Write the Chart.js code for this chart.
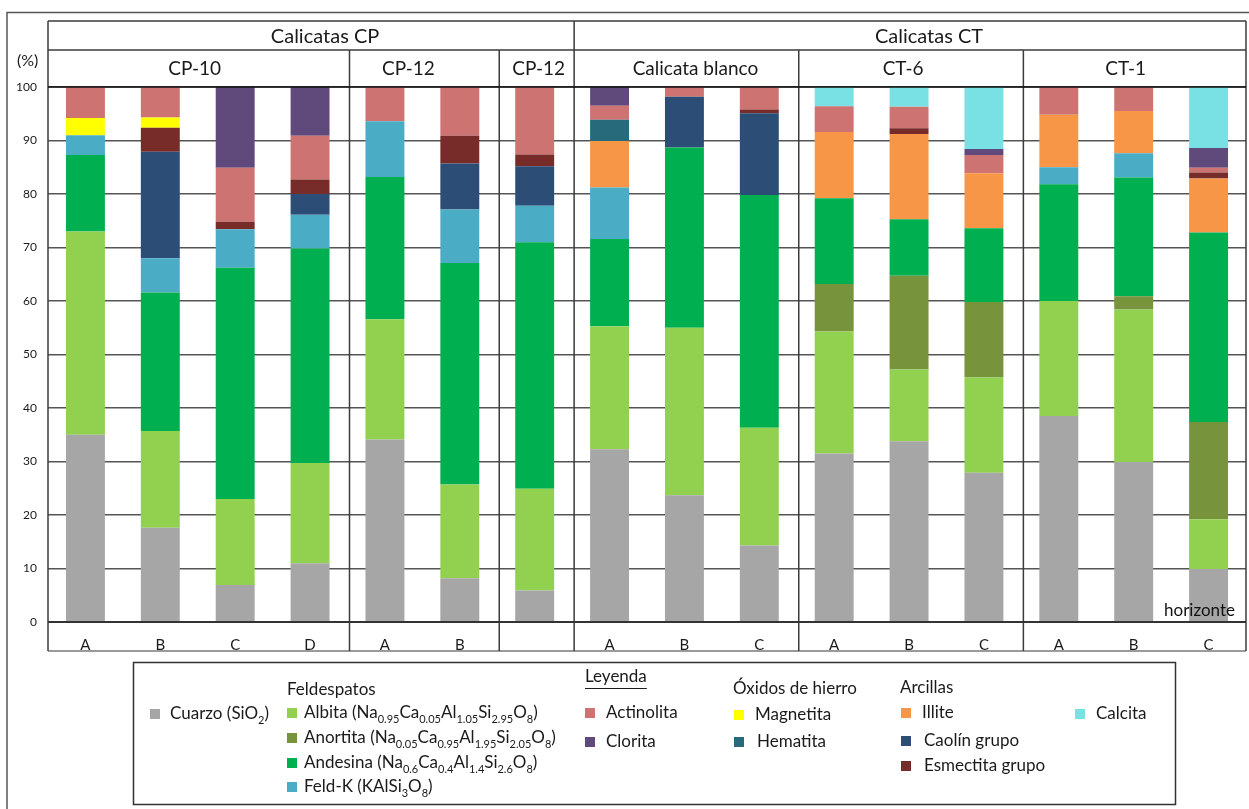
<!DOCTYPE html>
<html>
<head>
<meta charset="utf-8">
<script src="https://cdn.jsdelivr.net/npm/chart.js@4/dist/chart.umd.min.js"></script>
<style>
  html, body { margin: 0; padding: 0; background: #ffffff; }
  canvas { display: block; }
</style>
</head>
<body>
<canvas id="chart" width="1249" height="809"></canvas>
<script>
// Horizon labels, one per bar
const categories = ['A', 'B', 'C', 'D', 'A', 'B', '', 'A', 'B', 'C', 'A', 'B', 'C', 'A', 'B', 'C'];

// Mineral content (%) per horizon
const cuarzo     = [35.0, 17.6, 6.9, 11.0, 34.1, 8.2, 5.9, 32.3, 23.7, 14.3, 31.5, 33.8, 27.9, 38.5, 29.9, 9.9];
const albita     = [38.0, 18.1, 16.1, 18.7, 22.5, 17.5, 19.0, 23.0, 31.3, 22.0, 22.8, 13.4, 17.8, 21.5, 28.5, 9.3];
const anortita   = [0, 0, 0, 0, 0, 0, 0, 0, 0, 0, 8.9, 17.5, 14.1, 0, 2.5, 18.2];
const andesina   = [14.3, 25.9, 43.2, 40.1, 26.6, 41.4, 46.1, 16.3, 33.7, 43.5, 16.0, 10.6, 13.8, 21.8, 22.2, 35.4];
const feldK      = [3.7, 6.4, 7.2, 6.3, 10.4, 10.0, 6.8, 9.6, 0, 0, 0, 0, 0, 3.2, 4.5, 0];
const illite     = [0, 0, 0, 0, 0, 0, 0, 8.7, 0, 0, 12.4, 15.9, 10.3, 9.8, 7.9, 10.1];
const caolin     = [0, 19.9, 0, 3.9, 0, 8.6, 7.4, 0, 9.5, 15.3, 0, 0, 0, 0, 0, 0];
const esmectita  = [0, 4.5, 1.4, 2.7, 0, 5.2, 2.2, 0, 0, 0.7, 0, 1.1, 0, 0, 0, 1.1];
const hematita   = [0, 0, 0, 0, 0, 0, 0, 4.0, 0, 0, 0, 0, 0, 0, 0, 0];
const magnetita  = [3.2, 1.9, 0, 0, 0, 0, 0, 0, 0, 0, 0, 0, 0, 0, 0, 0];
const actinolita = [5.8, 5.7, 10.1, 8.2, 6.4, 9.1, 12.6, 2.6, 1.8, 4.2, 4.8, 4.0, 3.4, 5.2, 4.5, 0.9];
const clorita    = [0, 0, 15.1, 9.1, 0, 0, 0, 3.5, 0, 0, 0, 0, 1.1, 0, 0, 3.7];
const calcita    = [0, 0, 0, 0, 0, 0, 0, 0, 0, 0, 3.6, 3.7, 11.6, 0, 0, 11.4];

// Series names ("_{...}" marks a subscript)
const seriesNames = [
  'Cuarzo (SiO_{2})',
  'Albita (Na_{0.95}Ca_{0.05}Al_{1.05}Si_{2.95}O_{8})',
  'Anortita (Na_{0.05}Ca_{0.95}Al_{1.95}Si_{2.05}O_{8})',
  'Andesina (Na_{0.6}Ca_{0.4}Al_{1.4}Si_{2.6}O_{8})',
  'Feld-K (KAlSi_{3}O_{8})',
  'Illite',
  'Caolín grupo',
  'Esmectita grupo',
  'Hematita',
  'Magnetita',
  'Actinolita',
  'Clorita',
  'Calcita'
];
const seriesValues = [cuarzo, albita, anortita, andesina, feldK, illite, caolin, esmectita,
                      hematita, magnetita, actinolita, clorita, calcita];
const seriesColors = ['#a6a6a6', '#92d050', '#77933c', '#00b050', '#4bacc6', '#f79646', '#2c4d75',
                      '#772c2a', '#276a7c', '#ffff00', '#cd7371', '#604a7b', '#79e1e4'];

// Tick values for the percentage axis
const yTicks = [0, 10, 20, 30, 40, 50, 60, 70, 80, 90, 100];

// Pit groupings: [first bar, last bar + 1, title]
const pitGroups = [[0, 4, 'CP-10'], [4, 6, 'CP-12'], [6, 7, 'CP-12'], [7, 10, 'Calicata blanco'],
                   [10, 13, 'CT-6'], [13, 16, 'CT-1']];
const siteGroups = [[0, 7, 'Calicatas CP'], [7, 16, 'Calicatas CT']];

const FONT = 'Lato, "Open Sans", sans-serif';

const datasets = seriesNames.map((name, i) => ({
  label: name.replace(/_\{([^}]*)\}/g, '$1'),
  data: seriesValues[i].map(v => (v > 0 ? v : null)),
  backgroundColor: seriesColors[i],
  borderWidth: 0,
  barPercentage: 0.52,
  categoryPercentage: 1.0
}));

// Text with subscript runs
function drawRich(ctx, str, x, y, size, color) {
  const parts = str.split(/(_\{[^}]*\})/).filter(Boolean);
  let cx = x;
  ctx.fillStyle = color || '#1a1a1a';
  ctx.textAlign = 'left';
  ctx.textBaseline = 'middle';
  for (const p of parts) {
    if (p.startsWith('_{')) {
      const t = p.slice(2, -1);
      ctx.font = Math.round(size * 0.62) + 'px ' + FONT;
      ctx.fillText(t, cx, y + size * 0.36);
      cx += ctx.measureText(t).width;
    } else {
      ctx.font = size + 'px ' + FONT;
      ctx.fillText(p, cx, y);
      cx += ctx.measureText(p).width;
    }
  }
  return cx;
}

const framePlugin = {
  id: 'framePlugin',
  afterDraw(chart) {
    const ctx = chart.ctx;
    const xs = chart.scales.x;
    const area = chart.chartArea;
    const L = area.left, R = area.right, T = area.top, B = area.bottom;
    const rowBottom = xs.bottom;
    const row1Top = 21, row1Bottom = 50;
    const n = categories.length;
    const edge = i => (i <= 0 ? L : i >= n ? R : (xs.getPixelForValue(i - 1) + xs.getPixelForValue(i)) / 2 + 2);

    ctx.save();
    // outer frame
    ctx.strokeStyle = '#555555';
    ctx.lineWidth = 1.5;
    ctx.beginPath();
    ctx.moveTo(7, 809); ctx.lineTo(7, 12.5); ctx.lineTo(1249, 12.5);
    ctx.stroke();

    // bottom of the horizon row
    ctx.strokeStyle = '#9a9a9a';
    ctx.lineWidth = 2;
    ctx.beginPath();
    ctx.moveTo(L, rowBottom); ctx.lineTo(R, rowBottom);
    ctx.stroke();

    // header boxes and dividers
    ctx.strokeStyle = '#3c3c3c';
    ctx.lineWidth = 1.5;
    ctx.beginPath();
    ctx.moveTo(L, row1Top); ctx.lineTo(R, row1Top);
    ctx.moveTo(L, row1Bottom); ctx.lineTo(R, row1Bottom);
    ctx.moveTo(L, row1Top); ctx.lineTo(L, rowBottom);
    ctx.moveTo(R, row1Top); ctx.lineTo(R, rowBottom);
    siteGroups.forEach(g => {
      if (g[0] > 0) { const e = edge(g[0]); ctx.moveTo(e, row1Top); ctx.lineTo(e, rowBottom); }
    });
    pitGroups.forEach(g => {
      if (g[0] > 0) { const e = edge(g[0]); ctx.moveTo(e, row1Bottom); ctx.lineTo(e, rowBottom); }
    });
    ctx.stroke();

    ctx.strokeStyle = '#111111';
    ctx.lineWidth = 1.5;
    ctx.beginPath();
    ctx.moveTo(L, T); ctx.lineTo(R, T);
    ctx.stroke();
    ctx.strokeStyle = '#333333';
    ctx.lineWidth = 2;
    ctx.beginPath();
    ctx.moveTo(L, B); ctx.lineTo(R, B);
    ctx.stroke();

    // header titles
    ctx.fillStyle = '#1a1a1a';
    ctx.textAlign = 'center';
    ctx.textBaseline = 'middle';
    const siteShift = [14, 19];
    ctx.font = '20px ' + FONT;
    siteGroups.forEach((g, k) => {
      ctx.fillText(g[2], (edge(g[0]) + edge(g[1])) / 2 + siteShift[k], (row1Top + row1Bottom) / 2 + 1);
    });
    const pitShift = [-4, -16, 2, 9, -8, -9];
    ctx.font = '19px ' + FONT;
    pitGroups.forEach((g, k) => {
      ctx.fillText(g[2], (edge(g[0]) + edge(g[1])) / 2 + pitShift[k], (row1Bottom + T) / 2);
    });

    // axis unit
    ctx.font = '16px ' + FONT;
    ctx.textAlign = 'left';
    ctx.fillText('(%)', 17, 61);

    // horizon caption
    ctx.font = '17px ' + FONT;
    ctx.textAlign = 'right';
    ctx.textBaseline = 'alphabetic';
    ctx.fillStyle = '#111111';
    ctx.fillText('horizonte', R - 11, B - 6);

    // legend box
    ctx.strokeStyle = '#333333';
    ctx.lineWidth = 1.5;
    ctx.strokeRect(133.5, 662.5, 1042, 142);

    const heads = [['Feldespatos', 287, 690], ['Óxidos de hierro', 733, 689], ['Arcillas', 900, 688]];
    heads.forEach(h => drawRich(ctx, h[0], h[1], h[2], 17));
    const lw = drawRich(ctx, 'Leyenda', 585, 677, 17) - 585;
    ctx.strokeStyle = '#1a1a1a';
    ctx.lineWidth = 1;
    ctx.beginPath();
    ctx.moveTo(585, 688.5); ctx.lineTo(585 + lw, 688.5);
    ctx.stroke();

    // legend entries: [series index, swatch x, text x, row y]
    const entries = [
      [0, 150, 170, 714], [1, 287, 304, 713], [2, 287, 304, 738], [3, 287, 304, 763], [4, 287, 304, 787],
      [10, 585, 606, 713], [11, 585, 606, 742],
      [9, 734, 755, 715], [8, 734, 757, 742],
      [5, 901, 922, 713], [6, 901, 924, 741], [7, 901, 924, 766],
      [12, 1075, 1096, 714]
    ];
    entries.forEach(e => {
      ctx.fillStyle = seriesColors[e[0]];
      ctx.fillRect(e[1], e[3] - 5, 10, 10);
      drawRich(ctx, seriesNames[e[0]], e[2], e[3], 17);
    });
    ctx.restore();
  }
};

new Chart(document.getElementById('chart'), {
  type: 'bar',
  data: { labels: categories, datasets: datasets },
  options: {
    responsive: false,
    animation: false,
    layout: { padding: { left: 0, right: 3, top: 87, bottom: 158 } },
    plugins: { legend: { display: false }, tooltip: { enabled: false } },
    scales: {
      x: {
        stacked: true,
        grid: { display: false },
        border: { display: false },
        ticks: { font: { family: FONT, size: 15 }, color: '#1a1a1a', padding: 6, maxRotation: 0, autoSkip: false },
        afterFit(scale) { scale.height = 29; }
      },
      y: {
        stacked: true,
        min: 0,
        max: 100,
        afterBuildTicks(scale) { scale.ticks = yTicks.map(v => ({ value: v })); },
        grid: { color: '#555555', lineWidth: 1.5, drawTicks: false },
        border: { display: false },
        ticks: { font: { family: FONT, size: 12 }, color: '#1a1a1a', padding: 11 },
        afterFit(scale) { scale.width = 48; }
      }
    }
  },
  plugins: [framePlugin]
});
</script>
</body>
</html>
